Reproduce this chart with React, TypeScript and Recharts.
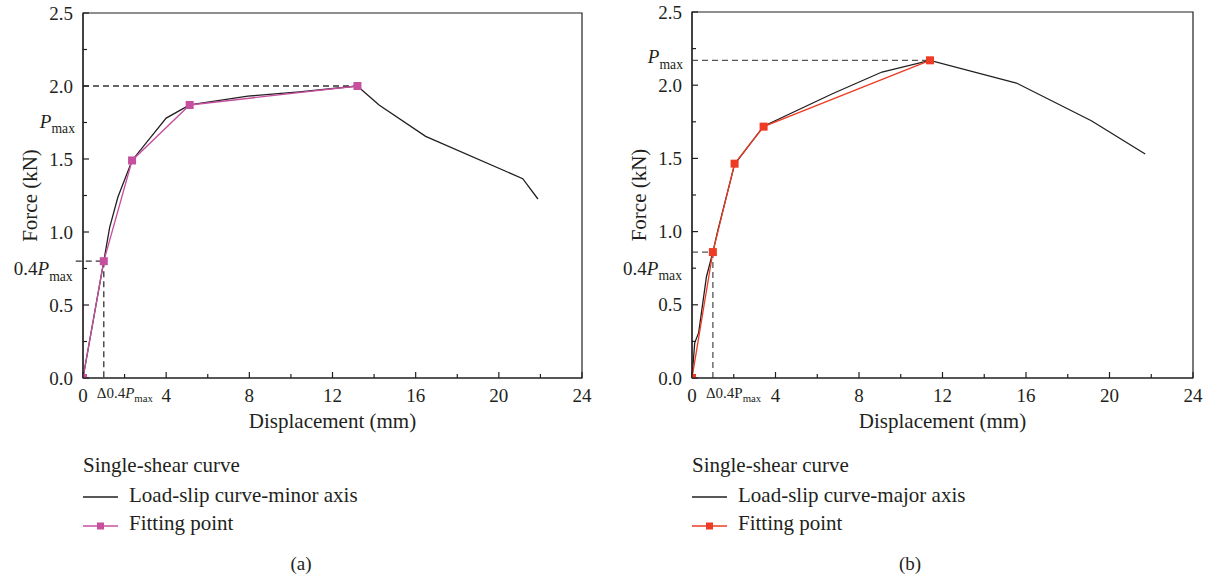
import { Line, LineChart, ReferenceArea, ReferenceLine, XAxis, YAxis } from 'recharts'

const FONT = "'Liberation Serif', 'Times New Roman', serif"
const INK = '#231f20'
const TXT = { fontFamily: FONT }

// Panel (a): load-slip curve along the minor axis
const minorDisp = [0, 1.0, 1.28, 1.68, 2.36, 4.0, 5.13, 7.93, 10.4, 13.2, 13.4, 14.24, 16.48, 21.15, 21.88]
const minorForce = [0, 0.8, 1.03, 1.24, 1.49, 1.78, 1.87, 1.93, 1.96, 2.0, 1.975, 1.87, 1.655, 1.365, 1.226]
const minorFitDisp = [0, 1.0, 2.36, 5.13, 13.2]
const minorFitForce = [0, 0.8, 1.49, 1.87, 2.0]

// Panel (b): load-slip curve along the major axis
const majorDisp = [0, 0.13, 0.32, 0.69, 1.0, 1.24, 2.04, 3.43, 6.7, 9.1, 11.4, 15.54, 19.13, 21.71]
const majorForce = [0, 0.24, 0.31, 0.69, 0.86, 1.01, 1.46, 1.72, 1.94, 2.09, 2.17, 2.015, 1.757, 1.53]
const majorFitDisp = [0, 1.0, 2.04, 3.43, 11.4]
const majorFitForce = [0, 0.86, 1.464, 1.717, 2.17]

const xTicks = [0, 2, 4, 6, 8, 10, 12, 14, 16, 18, 20, 22, 24]
const yTicks = [0, 0.25, 0.5, 0.75, 1.0, 1.25, 1.5, 1.75, 2.0, 2.25, 2.5]

type Pt = { x: number; y: number }
const zip = (xs: number[], ys: number[]): Pt[] => xs.map((x, i) => ({ x, y: ys[i] }))

function XTick({ x, y, payload }: any) {
  const v = payload.value
  const major = v % 4 === 0
  return (
    <g>
      <line x1={x} x2={x} y1={y} y2={y - (major ? 6 : 4)} stroke={INK} strokeWidth={1.2} />
      {major && (
        <text x={x} y={y + 24} textAnchor="middle" fontSize={19} style={TXT} fill={INK}>
          {v}
        </text>
      )}
    </g>
  )
}

function YTick({ x, y, payload }: any) {
  const v = payload.value
  const major = Math.abs(v * 2 - Math.round(v * 2)) < 1e-6
  return (
    <g>
      <line x1={x} x2={x + (major ? 6 : 4)} y1={y} y2={y} stroke={INK} strokeWidth={1.2} />
      {major && (
        <text x={x - 10} y={y} dy="0.35em" textAnchor="end" fontSize={19} style={TXT} fill={INK}>
          {v.toFixed(1)}
        </text>
      )}
    </g>
  )
}

function Square({ cx, cy, fill, size = 8 }: any) {
  if (cx == null || cy == null) return null
  return <rect x={cx - size / 2} y={cy - size / 2} width={size} height={size} fill={fill} />
}

// "P_max" style label, anchored to a reference line's box
function PLabel({ viewBox, dx, dy, prefix = '', anchor = 'end', size = 19, italic = true, fromBottom = false }: any) {
  if (!viewBox) return null
  const y = fromBottom ? viewBox.y + viewBox.height : viewBox.y
  return (
    <text x={viewBox.x + dx} y={y + dy} textAnchor={anchor} style={TXT} fontSize={size} fill={INK}>
      {prefix}
      <tspan fontStyle={italic ? 'italic' : 'normal'}>P</tspan>
      <tspan fontSize={size * 0.72} dy={size * 0.28}>max</tspan>
    </text>
  )
}

interface PanelProps {
  left: number
  width: number
  marginTop: number
  curve: Pt[]
  fit: Pt[]
  fitColor: string
  dashColor: string
  pmax: number
  pmaxX: number
  p04: number
  d04: number
  p04Start: number
  pmaxLabel: { dx: number; dy: number }
  p04Label: { dx: number; dy: number }
  deltaItalic: boolean
  curveName: string
  caption: string
}

function Panel(p: PanelProps) {
  const dash = '6 4'
  return (
    <div style={{ position: 'absolute', left: p.left, top: 0 }}>
      <LineChart width={p.width} height={440} margin={{ top: p.marginTop, right: 18, bottom: 0, left: 0 }}>
        <XAxis
          type="number"
          dataKey="x"
          domain={[0, 24]}
          ticks={xTicks}
          interval={0}
          height={62}
          tickSize={0}
          tickMargin={0}
          tickLine={false}
          tick={<XTick />}
          axisLine={{ stroke: INK, strokeWidth: 1.2 }}
          allowDataOverflow
          label={{ value: 'Displacement (mm)', position: 'insideBottom', offset: 12, fontSize: 21, fill: INK, style: TXT }}
        />
        <YAxis
          type="number"
          dataKey="y"
          domain={[0, 2.5]}
          ticks={yTicks}
          interval={0}
          width={83}
          tickSize={0}
          tickMargin={0}
          tickLine={false}
          tick={<YTick />}
          axisLine={{ stroke: INK, strokeWidth: 1.2 }}
          allowDataOverflow
          label={{
            value: 'Force (kN)',
            angle: -90,
            position: 'insideLeft',
            offset: 30,
            fontSize: 21,
            fill: INK,
            style: { textAnchor: 'middle', fontFamily: FONT },
          }}
        />
        <ReferenceArea x1={0} x2={24} y1={0} y2={2.5} fill="none" fillOpacity={0} stroke={INK} strokeWidth={1.2} />
        <ReferenceLine
          segment={[{ x: 0, y: p.pmax }, { x: p.pmaxX, y: p.pmax }]}
          stroke={p.dashColor}
          strokeWidth={1.3}
          strokeDasharray={dash}
          ifOverflow="visible"
          label={(props: any) => <PLabel {...props} dx={p.pmaxLabel.dx} dy={p.pmaxLabel.dy} />}
        />
        <ReferenceLine
          segment={[{ x: p.p04Start, y: p.p04 }, { x: p.d04, y: p.p04 }]}
          stroke={p.dashColor}
          strokeWidth={1.3}
          strokeDasharray={dash}
          ifOverflow="visible"
          label={(props: any) => <PLabel {...props} prefix="0.4" dx={p.p04Label.dx} dy={p.p04Label.dy} />}
        />
        <ReferenceLine
          segment={[{ x: p.d04, y: p.p04 }, { x: p.d04, y: 0 }]}
          stroke={p.dashColor}
          strokeWidth={1.3}
          strokeDasharray={dash}
          ifOverflow="visible"
          label={(props: any) => (
            <PLabel {...props} prefix="Δ0.4" anchor="start" size={15} italic={p.deltaItalic} fromBottom dx={-7} dy={20} />
          )}
        />
        <Line
          data={p.curve}
          dataKey="y"
          type="linear"
          stroke={INK}
          strokeWidth={1.3}
          dot={false}
          isAnimationActive={false}
        />
        <Line
          data={p.fit}
          dataKey="y"
          type="linear"
          stroke={p.fitColor}
          strokeWidth={1.3}
          dot={(d: any) => <Square key={d.index} cx={d.cx} cy={d.cy} fill={p.fitColor} />}
          activeDot={false}
          isAnimationActive={false}
        />
      </LineChart>
      <svg width={p.width} height={144} style={{ position: 'absolute', left: 0, top: 440 }}>
        <g style={TXT} fill={INK}>
          <text x={83} y={32} fontSize={21}>Single-shear curve</text>
          <line x1={83} x2={118} y1={57} y2={57} stroke={INK} strokeWidth={1.3} />
          <text x={129} y={62} fontSize={21}>{p.curveName}</text>
          <line x1={83} x2={118} y1={86} y2={86} stroke={p.fitColor} strokeWidth={1.3} />
          <Square cx={100.5} cy={86} fill={p.fitColor} size={7} />
          <text x={129} y={90} fontSize={21}>Fitting point</text>
          <text x={301} y={130} fontSize={19} textAnchor="middle">{p.caption}</text>
        </g>
      </svg>
    </div>
  )
}

export default function App() {
  return (
    <div style={{ position: 'absolute', left: 0, top: 0, width: 1210, height: 584, background: '#fff', fontFamily: FONT }}>
      <Panel
        left={0}
        width={600}
        marginTop={13}
        curve={zip(minorDisp, minorForce)}
        fit={zip(minorFitDisp, minorFitForce)}
        fitColor="#c64fa0"
        dashColor="#333"
        pmax={2.0}
        pmaxX={13.2}
        p04={0.8}
        d04={1.0}
        p04Start={-0.35}
        pmaxLabel={{ dx: -8, dy: 42 }}
        p04Label={{ dx: -3, dy: 14 }}
        deltaItalic
        curveName="Load-slip curve-minor axis"
        caption="(a)"
      />
      <Panel
        left={609}
        width={602}
        marginTop={12}
        curve={zip(majorDisp, majorForce)}
        fit={zip(majorFitDisp, majorFitForce)}
        fitColor="#ee3b24"
        dashColor="#555"
        pmax={2.17}
        pmaxX={11.4}
        p04={0.86}
        d04={1.0}
        p04Start={0}
        pmaxLabel={{ dx: -9, dy: 3 }}
        p04Label={{ dx: -10, dy: 23 }}
        deltaItalic={false}
        curveName="Load-slip curve-major axis"
        caption="(b)"
      />
    </div>
  )
}
